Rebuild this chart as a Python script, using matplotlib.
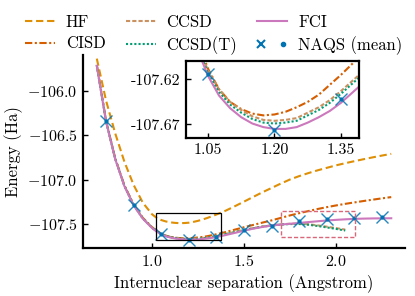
import matplotlib
matplotlib.use('Agg')
import matplotlib.pyplot as plt
from matplotlib.patches import Rectangle
from matplotlib.lines import Line2D
from matplotlib.legend_handler import HandlerTuple

plt.rcParams['font.family'] = 'serif'
plt.rcParams['font.serif'] = ['cmr10']
plt.rcParams['mathtext.fontset'] = 'cm'
plt.rcParams['axes.formatter.use_mathtext'] = True
plt.rcParams['font.size'] = 12
plt.rcParams['xtick.labelsize'] = 11.5
plt.rcParams['ytick.labelsize'] = 11.5

# bond lengths (Angstrom)
r = [0.70, 0.75, 0.80, 0.85, 0.90, 0.95, 1.00,
     1.025, 1.05, 1.075, 1.10, 1.125, 1.15, 1.175, 1.20, 1.225, 1.25, 1.275,
     1.30, 1.325, 1.35, 1.375, 1.40,
     1.45, 1.50, 1.55, 1.60, 1.65, 1.70, 1.75, 1.80, 1.85, 1.90, 1.95, 2.00,
     2.05, 2.10, 2.15, 2.20, 2.25, 2.30]

hf = [-105.64, -106.11, -106.48, -106.80, -107.06, -107.26, -107.39,
      -107.43, -107.455, -107.471, -107.481, -107.487, -107.490, -107.489, -107.485,
      -107.476, -107.464, -107.449, -107.432, -107.413, -107.393, -107.372, -107.350,
      -107.300, -107.248, -107.195, -107.143, -107.094, -107.045, -106.999, -106.961,
      -106.927, -106.896, -106.868, -106.840, -106.816, -106.793, -106.771, -106.750,
      -106.730, -106.711]

cisd = [-105.712, -106.336, -106.760, -107.065, -107.280, -107.430, -107.535,
        -107.575, -107.608, -107.631, -107.645, -107.653, -107.658, -107.660, -107.659,
        -107.656, -107.651, -107.645, -107.637, -107.626, -107.615, -107.603, -107.590,
        -107.563, -107.536, -107.510, -107.484, -107.459, -107.431, -107.403, -107.378,
        -107.354, -107.331, -107.310, -107.291, -107.273, -107.257, -107.241, -107.226,
        -107.211, -107.197]

ccsd = [-105.714, -106.339, -106.764, -107.069, -107.284, -107.434, -107.539,
        -107.579, -107.610, -107.631, -107.645, -107.654, -107.661, -107.665, -107.666,
        -107.665, -107.663, -107.657, -107.651, -107.643, -107.633, -107.622, -107.611,
        -107.589, -107.566, -107.545, -107.527, -107.513, -107.503, -107.497, -107.497,
        -107.503, -107.515, -107.530, -107.546, -107.563]

ccsd_t = [-105.717, -106.342, -106.767, -107.072, -107.287, -107.437, -107.542,
          -107.582, -107.613, -107.634, -107.648, -107.657, -107.664, -107.668, -107.669,
          -107.668, -107.666, -107.660, -107.654, -107.646, -107.636, -107.625, -107.614,
          -107.592, -107.569, -107.548, -107.530, -107.516, -107.506, -107.500, -107.500,
          -107.508, -107.522, -107.538, -107.555, -107.573]

fci = [-105.72, -106.345, -106.77, -107.075, -107.29, -107.44, -107.545,
       -107.585, -107.616, -107.638, -107.652, -107.662, -107.669, -107.673, -107.675,
       -107.675, -107.673, -107.668, -107.662, -107.655, -107.646, -107.635, -107.624,
       -107.600, -107.575, -107.552, -107.533, -107.517, -107.506, -107.497, -107.488,
       -107.478, -107.469, -107.460, -107.453, -107.447, -107.442, -107.439, -107.437,
       -107.436, -107.435]

r_naqs = [0.75, 0.90, 1.05, 1.20, 1.35, 1.50, 1.65, 1.80, 1.95, 2.10, 2.25]
e_naqs = [-106.345, -107.285, -107.614, -107.676, -107.642, -107.572, -107.524,
          -107.470, -107.442, -107.432, -107.422]

c_hf = '#de8f05'
c_cisd = '#d55e00'
c_ccsd = '#ca9161'
c_ccsdt = '#029e73'
c_fci = '#cc78bc'
c_naqs = '#0173b2'


def draw(ax, lw=1.5):
    ax.plot(r, hf, color=c_hf, lw=lw, ls=(0, (3.5, 1.8)))
    ax.plot(r, cisd, color=c_cisd, lw=lw, ls=(0, (3.5, 1.2, 1, 1.2)))
    ax.plot(r[:len(ccsd)], ccsd, color=c_ccsd, lw=lw, ls=(0, (2, 1)))
    ax.plot(r[:len(ccsd_t)], ccsd_t, color=c_ccsdt, lw=lw, ls=(0, (1, 1)))
    ax.plot(r, fci, color=c_fci, lw=lw)
    ax.plot(r_naqs, e_naqs, 'x', color=c_naqs, ms=8, mew=1.0, alpha=0.85)
    ax.plot(r_naqs, e_naqs, '.', color=c_naqs, ms=4)


fig = plt.figure(figsize=(4.15, 2.96), dpi=100)
ax = fig.add_axes([0.2, 0.162, 0.776, 0.652])
draw(ax)
ax.spines['right'].set_color('none')
ax.spines['top'].set_color('none')
ax.spines['left'].set_linewidth(1.6)
ax.spines['bottom'].set_linewidth(1.6)
ax.tick_params(direction='in', length=3.5, width=1.0, pad=4)
ax.set_xlim(0.625, 2.375)
ax.set_ylim(-107.77, -105.60)
ax.set_xticks([1.0, 1.5, 2.0])
ax.set_yticks([-106.0, -106.5, -107.0, -107.5])
ax.set_xlabel('Internuclear separation (Angstrom)', labelpad=4)
ax.set_ylabel('Energy (Ha)', labelpad=3)

ax.add_patch(Rectangle((1.023, -107.677), 0.354, 0.301, fill=False,
                       ec='black', lw=0.9, zorder=5))
ax.add_patch(Rectangle((1.70, -107.651), 0.404, 0.30, fill=False,
                       ec='#d9677a', lw=1.0, ls=(0, (3, 1.5)), zorder=5))

# inset
axin = fig.add_axes([0.4475, 0.534, 0.417, 0.259])
draw(axin)
for s in axin.spines.values():
    s.set_linewidth(1.6)
axin.tick_params(direction='in', length=3.5, width=1.0, pad=4)
axin.set_xlim(1.0, 1.39)
axin.set_ylim(-107.685, -107.60)
axin.set_xticks([1.05, 1.20, 1.35])
axin.set_xticklabels(['1.05', '1.20', '1.35'])
axin.set_yticks([-107.62, -107.67])
axin.set_yticklabels(['-107.62', '-107.67'])

# legend
h = [Line2D([], [], color=c_hf, lw=1.5, ls=(0, (3.5, 1.8))),
     Line2D([], [], color=c_cisd, lw=1.5, ls=(0, (3.5, 1.2, 1, 1.2))),
     Line2D([], [], color=c_ccsd, lw=1.5, ls=(0, (2, 1))),
     Line2D([], [], color=c_ccsdt, lw=1.5, ls=(0, (1, 1))),
     Line2D([], [], color=c_fci, lw=1.5),
     (Line2D([], [], marker='x', color=c_naqs, ls='none', ms=6, mew=1.5),
      Line2D([], [], marker='.', color=c_naqs, ls='none', ms=6))]
labels = ['HF', 'CISD', 'CCSD', 'CCSD(T)', 'FCI', 'NAQS (mean)']
fig.legend(h, labels, ncol=3, loc='upper center', bbox_to_anchor=(0.515, 1.0),
           frameon=False, handlelength=1.8, columnspacing=1.2, handletextpad=0.65,
           labelspacing=0.35, handler_map={tuple: HandlerTuple(ndivide=None, pad=0.8)})

fig.savefig('out.png', dpi=100)
